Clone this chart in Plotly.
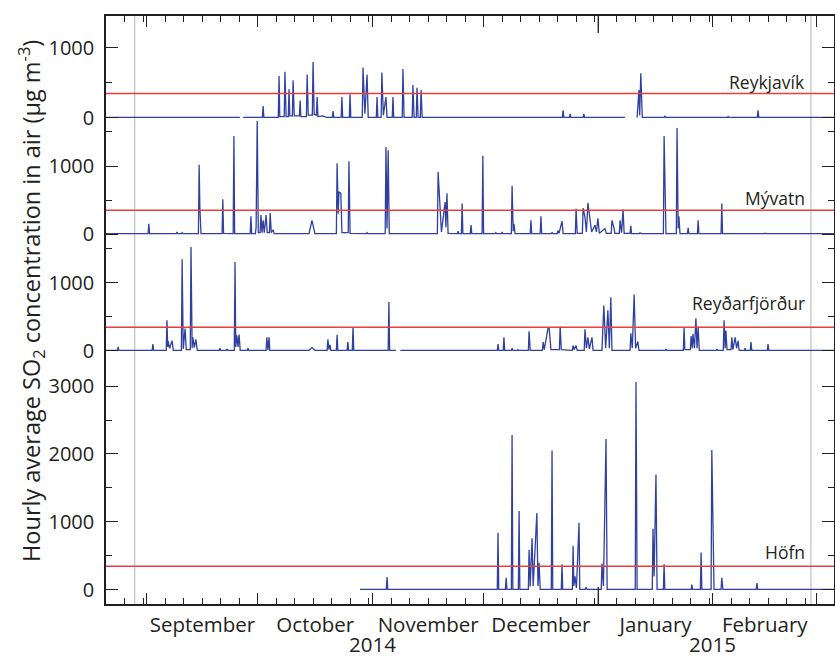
import plotly.graph_objects as go
import pandas as pd

# ---------------- data (day offsets from 1 Sep 2014, hourly SO2 in µg/m3) ----------------
START = pd.Timestamp("2014-09-01")

reykjavik = [
    (-11.1, 8), (25.1, 8), (25.5, None), (26.0, 8),
    (31.2, 8), (31.4, 170), (31.6, 8),
    (35.5, 8), (35.7, 600), (35.9, 20),
    (37.1, 20), (37.3, 660), (37.6, 20),
    (38.2, 20), (38.4, 410), (38.6, 30),
    (39.3, 30), (39.5, 540), (39.8, 30),
    (41.2, 30), (41.4, 250), (41.6, 20),
    (43.1, 20), (43.3, 620), (43.6, 40),
    (44.7, 40), (44.9, 800), (45.2, 50),
    (45.8, 40), (46.0, 300), (46.2, 20),
    (47.5, 30), (48.5, 10),
    (50.1, 10), (50.3, 100), (50.5, 10),
    (52.5, 10), (52.7, 300), (52.9, 10),
    (54.7, 10), (54.9, 340), (55.1, 10),
    (58.2, 10), (58.4, 720), (58.9, 60), (59.5, 620), (59.8, 10),
    (62.0, 10), (62.2, 300), (62.4, 10),
    (63.3, 10), (63.5, 650), (63.9, 40), (64.6, 300), (64.9, 10),
    (66.3, 10), (66.5, 300), (66.7, 10),
    (69.0, 10), (69.2, 700), (69.5, 10),
    (71.7, 10), (71.9, 470), (72.2, 10),
    (72.8, 10), (73.0, 430), (73.3, 10),
    (73.9, 10), (74.1, 400), (74.4, 8),
    (112.3, 8), (112.5, 110), (112.7, 8),
    (114.2, 8), (114.4, 60), (114.6, 8),
    (117.9, 8), (118.1, 60), (118.3, 8),
    (129.2, 8), (130.0, None), (132.5, 8), (133.0, 400), (133.2, 40), (133.5, 640), (133.9, 8),
    (139.8, 8), (140.0, 30), (140.2, 8),
    (156.9, 8), (157.1, 20), (157.3, 8),
    (165.0, 8), (165.2, 110), (165.4, 8),
    (185.7, 8),
]

myvatn = [
    (-11.1, 5),
    (0.3, 5), (0.5, 150), (0.7, 5),
    (7.9, 5), (8.1, 30), (8.3, 5),
    (9.3, 5), (9.5, 20), (9.7, 5),
    (13.9, 5), (14.1, 1020), (14.3, 380), (14.6, 5),
    (20.3, 5), (20.5, 510), (20.7, 10),
    (23.3, 5), (23.5, 1440), (23.7, 5),
    (27.9, 5), (28.1, 260), (28.3, 5),
    (29.3, 5), (29.5, 100), (29.8, 1660), (30.1, 20), (30.6, 20), (30.8, 280), (31.1, 20),
    (31.4, 200), (31.7, 20), (32.2, 280), (32.5, 20), (33.1, 20), (33.3, 310), (33.6, 20),
    (34.1, 60), (34.4, 5),
    (43.8, 5), (44.6, 200), (45.4, 5),
    (51.2, 5), (51.4, 1040), (51.7, 300), (51.9, 620), (52.4, 600), (52.7, 20),
    (54.4, 20), (54.6, 1070), (54.9, 10),
    (59.3, 5), (59.5, 20), (59.7, 5),
    (64.4, 5), (64.6, 1280), (64.9, 80), (65.2, 1230), (65.5, 5),
    (78.5, 5), (78.7, 910), (79.2, 350), (79.6, 30), (80.6, 470), (80.8, 100), (81.1, 600), (81.4, 10),
    (83.9, 5), (84.1, 40), (84.3, 5),
    (85.0, 5), (85.2, 450), (85.4, 5),
    (87.4, 5), (87.6, 130), (87.8, 5),
    (90.6, 5), (90.8, 1150), (91.0, 5),
    (94.1, 5), (94.3, 20), (94.5, 5),
    (95.8, 5), (96.0, 30), (96.2, 5),
    (98.5, 5), (98.7, 710), (99.0, 40), (99.2, 150), (99.5, 5),
    (103.6, 5), (103.8, 200), (104.0, 5),
    (106.3, 5), (106.5, 260), (106.7, 5),
    (109.3, 5), (109.5, 20), (109.7, 5),
    (110.9, 5), (111.1, 50), (111.4, 10), (112.2, 190), (112.5, 5),
    (115.8, 5), (116.0, 370), (116.3, 10),
    (117.7, 10), (117.9, 380), (118.4, 250), (118.8, 30), (119.2, 460), (119.8, 200), (120.2, 30),
    (121.1, 130), (121.5, 30), (121.9, 230), (122.3, 10),
    (123.8, 80), (124.2, 10),
    (125.5, 10), (125.7, 200), (126.2, 100), (126.5, 10),
    (127.7, 10), (127.9, 200), (128.3, 20), (128.7, 360), (129.0, 10),
    (130.6, 10), (130.8, 120), (131.0, 5),
    (133.1, 5), (133.3, 20), (133.6, 5),
    (139.6, 5), (139.8, 1440), (140.0, 650), (140.3, 5),
    (143.1, 5), (143.3, 1560), (143.6, 80), (143.8, 260), (144.1, 5),
    (146.1, 5), (146.3, 90), (146.5, 5),
    (148.8, 5), (149.0, 200), (149.2, 5),
    (155.2, 5), (155.4, 450), (155.6, 5),
    (166.9, 5), (167.1, 12), (167.3, 5),
    (169.6, 5), (169.8, 12), (170.0, 5),
    (185.7, 5),
]

reydarfjordur = [
    (-11.1, 8),
    (-8.0, 8), (-7.8, 60), (-7.6, 8),
    (1.4, 8), (1.6, 100), (1.8, 8),
    (5.2, 8), (5.4, 450), (5.6, 60), (5.7, 150), (6.1, 40), (6.8, 150), (7.1, 10),
    (9.3, 10), (9.5, 1350), (9.8, 30), (10.3, 330), (10.6, 20),
    (11.7, 20), (11.9, 1530), (12.2, 40), (12.4, 200), (12.8, 50), (13.2, 170), (13.6, 10),
    (19.5, 10), (19.7, 40), (19.9, 10),
    (21.4, 10), (21.6, 30), (21.8, 10),
    (23.6, 10), (23.8, 1310), (24.0, 60), (24.3, 230), (24.6, 60), (24.9, 240), (25.2, 10),
    (27.1, 10), (27.3, 40), (27.5, 10),
    (32.2, 10), (32.4, 200), (32.7, 10), (33.0, 200), (33.2, 10),
    (43.8, 10), (44.6, 50), (45.4, 10),
    (48.7, 10), (48.9, 170), (49.2, 20), (49.5, 90), (49.7, 10),
    (51.2, 10), (51.4, 240), (51.6, 10),
    (54.1, 10), (54.3, 130), (54.5, 10),
    (55.5, 10), (55.7, 350), (55.9, 10),
    (65.2, 10), (65.4, 720), (65.6, 10),
    (67.3, 8), (67.8, None), (68.5, 8),
    (94.7, 8), (94.9, 100), (95.1, 8),
    (96.3, 8), (96.5, 200), (96.7, 8),
    (98.5, 8), (98.7, 40), (98.9, 8),
    (100.1, 8), (100.3, 20), (100.5, 8),
    (103.1, 8), (103.3, 290), (103.6, 8),
    (106.9, 8), (107.1, 130), (107.4, 20), (108.4, 330), (108.7, 350), (109.2, 20),
    (111.5, 20), (111.7, 360), (112.0, 20),
    (115.0, 10), (115.2, 80), (115.5, 20), (116.0, 80), (116.3, 10),
    (118.2, 10), (118.4, 320), (118.8, 40), (119.2, 200), (119.6, 30), (120.3, 200), (120.6, 10),
    (122.5, 10), (122.7, 20), (123.0, 10), (123.5, 670), (124.0, 40), (124.6, 600), (125.0, 40),
    (125.4, 790), (125.7, 10),
    (130.6, 10), (130.8, 260), (131.2, 40), (131.7, 830), (132.1, 40), (132.7, 140), (133.0, 10),
    (140.1, 8), (140.3, 30), (140.5, 8),
    (145.0, 8), (145.2, 350), (145.4, 20),
    (146.9, 20), (147.1, 220), (147.4, 40), (147.6, 250), (148.0, 40), (148.4, 480), (148.7, 40),
    (149.0, 360), (149.3, 10),
    (153.9, 10), (154.1, 30), (154.3, 10),
    (155.8, 10), (156.0, 450), (156.3, 40), (156.5, 300), (156.8, 20),
    (157.9, 20), (158.1, 200), (158.4, 20), (159.0, 200), (159.4, 40), (159.8, 150), (160.1, 10),
    (161.5, 10), (161.7, 40), (161.9, 10),
    (163.1, 10), (163.3, 130), (163.5, 10),
    (167.7, 8), (167.9, 100), (168.1, 8),
    (185.7, 8),
]

hofn = [
    (57.6, 8),
    (64.7, 8), (64.9, 190), (65.1, 8),
    (94.7, 8), (94.9, 840), (95.1, 8),
    (96.9, 8), (97.1, 180), (97.3, 8),
    (98.5, 8), (98.7, 2280), (98.9, 8),
    (100.4, 8), (100.6, 1160), (100.8, 8),
    (103.1, 8), (103.3, 590), (103.6, 50), (104.1, 760), (104.4, 60), (105.2, 960), (105.4, 1130),
    (105.7, 60), (106.0, 400), (106.3, 8),
    (109.3, 8), (109.5, 2050), (109.7, 8),
    (112.0, 8), (112.2, 380), (112.4, 8),
    (115.0, 8), (115.2, 650), (115.4, 60), (115.7, 200), (116.1, 30), (116.8, 990), (117.0, 8),
    (118.5, 8), (118.7, 40), (119.0, 8),
    (122.8, 8), (123.0, 390), (123.4, 60), (124.1, 2220), (124.4, 8),
    (132.0, 8), (132.2, 3060), (132.5, 8),
    (136.6, 8), (136.8, 900), (137.1, 200), (137.6, 1700), (137.9, 8),
    (139.6, 8), (139.8, 380), (140.0, 8),
    (147.1, 8), (147.3, 80), (147.5, 8),
    (149.6, 8), (149.8, 550), (150.0, 8),
    (152.5, 8), (152.7, 2060), (153.0, 550), (153.3, 8),
    (155.2, 8), (155.4, 180), (155.7, 8),
    (164.7, 8), (164.9, 100), (165.1, 8),
    (185.7, 8),
]

stations = ["Reykjavík", "Mývatn", "Reyðarfjörður", "Höfn"]
series = [reykjavik, myvatn, reydarfjordur, hofn]
threshold = 350
eruption_days = [-3.3, 179.5]          # start / end of eruption (grey lines)
year_labels = [("2014", "2014-11-01"), ("2015", "2015-02-01")]
y_major = [[0, 1000], [0, 1000], [0, 1000], [0, 1000, 2000, 3000]]
y_minor = [[500], [500, 1500], [500, 1500], [500, 1500, 2500]]

# ---------------- layout helpers ----------------
W, H = 835, 657
L, R, T, B = 106, 1, 16, 53
ph = H - T - B  # 588

def py(pix):  # pixel row -> paper y
    return (H - B - pix) / ph

domains = [[py(124), 1.0], [py(240), py(119)], [py(359), py(240)], [0.0, py(359)]]
yranges = [[-86, 1457], [-88, 1691], [-118, 1632], [-206, 3397]]
label_rows = [82, 198, 303, 552]

def to_xy(points):
    xs = [START + pd.Timedelta(days=d) for d, _ in points]
    ys = [v for _, v in points]
    return xs, ys

xrange_ = [START + pd.Timedelta(days=-11.08), START + pd.Timedelta(days=185.73)]

minor_ticks = []
for y, m, days in [(2014, 8, [26, 31]), (2014, 9, [6, 11, 16, 21, 26]), (2014, 10, [6, 11, 16, 21, 26, 31]),
                   (2014, 11, [6, 11, 16, 21, 26]), (2014, 12, [6, 11, 16, 21, 26, 31]),
                   (2015, 1, [6, 11, 16, 21, 26, 31]), (2015, 2, [6, 11, 16, 21, 26])]:
    for d in days:
        minor_ticks.append(f"{y}-{m:02d}-{d:02d}")

INK = "#231f20"
BLUE = "#2f40a0"
RED = "#e8413c"
FONT = "Open Sans"

fig = go.Figure()
for i, pts in enumerate(series):
    xs, ys = to_xy(pts)
    fig.add_trace(go.Scatter(x=xs, y=ys, mode="lines", line=dict(color=BLUE, width=1.3),
                             connectgaps=False, showlegend=False,
                             xaxis=f"x{i+1 if i else ''}", yaxis=f"y{i+1 if i else ''}"))

layout = dict(width=W, height=H, margin=dict(l=L, r=R, t=T, b=B, autoexpand=False),
              paper_bgcolor="white", plot_bgcolor="rgba(0,0,0,0)",
              font=dict(family=FONT, size=20, color=INK), showlegend=False)

xcommon = dict(type="date", range=xrange_, showgrid=False, zeroline=False, automargin=False,
               tickmode="linear", tick0="2014-08-01", dtick="M1",
               ticks="inside", ticklen=11, tickwidth=1.3, tickcolor=INK,
               showline=True, linecolor=INK, linewidth=1.5,
               minor=dict(tickmode="array", tickvals=minor_ticks, ticks="inside",
                          ticklen=6, tickwidth=1.2, tickcolor=INK, showgrid=False))

for i in range(4):
    key = "xaxis" if i == 0 else f"xaxis{i+1}"
    ykey = "y" if i == 0 else f"y{i+1}"
    if i == 0:
        layout[key] = dict(xcommon, anchor=ykey, side="top", showticklabels=False)
    elif i == 3:
        layout[key] = dict(xcommon, anchor=ykey, ticklabelmode="period", tickformat="%B",
                           ticklabelstandoff=2,
                           tickfont=dict(size=20.5, family=FONT, color=INK))
    else:
        layout[key] = dict(type="date", range=xrange_, anchor=ykey, visible=False, automargin=False)

for i in range(4):
    key = "yaxis" if i == 0 else f"yaxis{i+1}"
    xkey = "x" if i == 0 else f"x{i+1}"
    layout[key] = dict(domain=domains[i], range=yranges[i], anchor=xkey, automargin=False,
                       showgrid=False, zeroline=False,
                       showline=True, linecolor=INK, linewidth=1.5, mirror="ticks",
                       tickmode="array", tickvals=y_major[i],
                       ticks="inside", ticklen=12, tickwidth=1.3, tickcolor=INK,
                       ticklabelstandoff=6,
                       tickfont=dict(size=20, family=FONT, color=INK),
                       minor=dict(tickmode="array", tickvals=y_minor[i], ticks="inside",
                                  ticklen=6, tickwidth=1.2, tickcolor=INK, showgrid=False))

fig.update_layout(**layout)

shapes = []
for i in range(4):
    yref = "y" if i == 0 else f"y{i+1}"
    shapes.append(dict(type="line", xref="paper", x0=0, x1=1, yref=yref, y0=threshold, y1=threshold,
                       line=dict(color=RED, width=1.5)))
for d in eruption_days:
    xd = START + pd.Timedelta(days=d)
    shapes.append(dict(type="line", xref="x4", x0=xd, x1=xd, yref="paper", y0=0, y1=1,
                       line=dict(color="#b5b5b5", width=1), layer="below"))
# longer year tick at 1 Jan 2015
for y0, y1 in [(0, 17 / ph), (1, 1 - 17 / ph)]:
    shapes.append(dict(type="line", xref="x4", x0="2015-01-01", x1="2015-01-01", yref="paper",
                       y0=y0, y1=y1, line=dict(color=INK, width=1.3)))
fig.update_layout(shapes=shapes)

annotations = []
for name, row in zip(stations, label_rows):
    annotations.append(dict(text=name, xref="paper", yref="paper", x=(807 - L) / (W - L - R), y=py(row),
                            xanchor="right", yanchor="middle", showarrow=False,
                            font=dict(size=17.5, family=FONT, color=INK)))
for txt, dt in year_labels:
    annotations.append(dict(text=txt, xref="x4", yref="paper", x=dt, y=py(644),
                            xanchor="center", yanchor="middle", showarrow=False, borderpad=0,
                            font=dict(size=20.5, family=FONT, color=INK)))
annotations.append(dict(text="Hourly average SO<sub>2</sub> concentration in air (µg m<sup>-3</sup>)",
                        xref="paper", yref="paper", x=(31 - L) / (W - L - R), y=py(301),
                        textangle=-90, xanchor="center", yanchor="middle", showarrow=False,
                        font=dict(size=23.5, family=FONT, color=INK)))
fig.update_layout(annotations=annotations)

fig.write_html("out.html", config={"displayModeBar": False},
               post_script="document.body.style.margin='0';document.body.style.overflow='hidden';")
